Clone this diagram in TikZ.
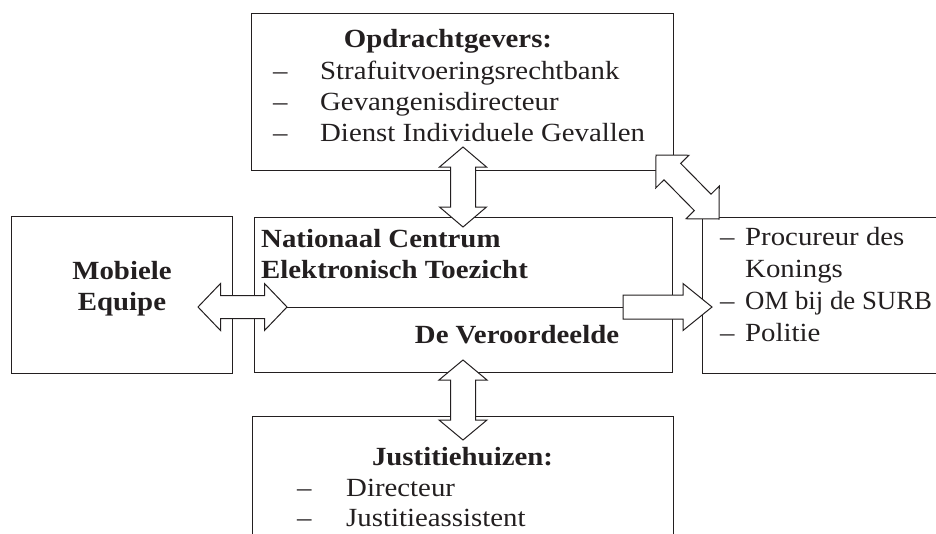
\documentclass[tikz,border=0pt]{standalone}
\usepackage{fontspec}
\setmainfont{Liberation Serif}[FakeStretch=1.1]
\usetikzlibrary{calc}
\newcommand\dblarrow[5]{%
 \draw[blockarr] (#1) -- ($(#1)!#3!(#2)!#4!90:(#2)$) -- ($(#1)!#3!(#2)!#5!90:(#2)$)
  -- ($(#2)!#3!(#1)!#5!-90:(#1)$) -- ($(#2)!#3!(#1)!#4!-90:(#1)$) -- (#2)
  -- ($(#2)!#3!(#1)!#4!90:(#1)$) -- ($(#2)!#3!(#1)!#5!90:(#1)$)
  -- ($(#1)!#3!(#2)!#5!-90:(#2)$) -- ($(#1)!#3!(#2)!#4!-90:(#2)$) -- cycle;}
\newcommand\sglarrow[5]{%
 \draw[blockarr] ($(#1)!#5!90:(#2)$) -- ($(#2)!#3!(#1)!#5!-90:(#1)$)
  -- ($(#2)!#3!(#1)!#4!-90:(#1)$) -- (#2) -- ($(#2)!#3!(#1)!#4!90:(#1)$)
  -- ($(#2)!#3!(#1)!#5!90:(#1)$) -- ($(#1)!#5!-90:(#2)$) -- cycle;}
\definecolor{ink}{HTML}{231F20}
\begin{document}
\begin{tikzpicture}[x=1pt,y=-1pt,
  box/.style={draw=ink, line width=1pt, inner sep=0pt},
  blockarr/.style={draw=ink, line width=1pt, fill=white, line join=miter},
  txt/.style={inner sep=0pt, anchor=base west, text=ink, font=\fontsize{26.2}{31}\selectfont},
  btxt/.style={txt, font=\fontsize{26.2}{31}\selectfont\bfseries},
  ctxt/.style={btxt, anchor=base}]
\useasboundingbox (0,0) rectangle (936,533);
\clip (0,0) rectangle (936,533);
% boxes
\node[box, minimum width=422pt, minimum height=157pt] (top) at (462,91.5) {};
\node[box, minimum width=418pt, minimum height=155pt] (ncet) at (463,294.5) {};
\node[box, minimum width=221pt, minimum height=157pt] (mob) at (121.5,294.5) {};
\node[box, minimum width=258pt, minimum height=156pt] (right) at (831,295) {};
\node[box, minimum width=421pt, minimum height=144pt] (bottom) at (462.5,488) {};
% divider
\coordinate (dl) at (254,307);
\coordinate (dr) at (672,307);
\draw[draw=ink, line width=1pt] (dl) -- (dr);
% arrow end points
\coordinate (t1) at (463,147); \coordinate (t2) at (463,227);
\coordinate (b1) at (463,360); \coordinate (b2) at (463,440);
\coordinate (l1) at (198,307); \coordinate (l2) at (287,307);
\coordinate (r1) at (623,307); \coordinate (r2) at (712,307);
\coordinate (d1) at (656,155); \coordinate (d2) at (719,219);
\dblarrow{t1}{t2}{20pt}{23.5pt}{12.5pt}
\dblarrow{b1}{b2}{20pt}{24pt}{12.5pt}
\dblarrow{l1}{l2}{22.5pt}{23.5pt}{11.5pt}
\sglarrow{r1}{r2}{29pt}{23.5pt}{12pt}
\dblarrow{d1}{d2}{23.3pt}{23.3pt}{11.7pt}
% top texts
\node[ctxt] (opd) at (448,47) {Opdrachtgevers:};
\node[txt] (o1) at (273,79) {\makebox[47pt][l]{–}Strafuitvoeringsrechtbank};
\node[txt] (o2) at (273,110) {\makebox[47pt][l]{–}Gevangenisdirecteur};
\node[txt] (o3) at (273,141.5) {\makebox[47pt][l]{–}Dienst Individuele Gevallen};
% center texts
\node[btxt] (nc1) at (261,247) {Nationaal Centrum};
\node[btxt] (nc2) at (261,278) {Elektronisch Toezicht};
\node[ctxt] (dv) at (517,343) {De Veroordeelde};
% mobiele
\node[ctxt] (m1) at (122,279) {Mobiele};
\node[ctxt] (m2) at (122,310) {Equipe};
% right texts
\node[txt] (p1) at (720,245) {\makebox[25pt][l]{–}Procureur des};
\node[txt] (p2) at (745,277) {Konings};
\node[txt] (p3) at (720,309) {\makebox[25pt][l]{–}\scalebox{0.93}[1]{OM bij de SURB}};
\node[txt] (p4) at (720,341) {\makebox[25pt][l]{–}Politie};
% bottom texts
\node[ctxt] (jh) at (462.5,465) {Justitiehuizen:};
\node[txt] (j1) at (297,496) {\makebox[49pt][l]{–}Directeur};
\node[txt] (j2) at (297,526) {\makebox[49pt][l]{–}Justitieassistent};
\end{tikzpicture}
\end{document}
